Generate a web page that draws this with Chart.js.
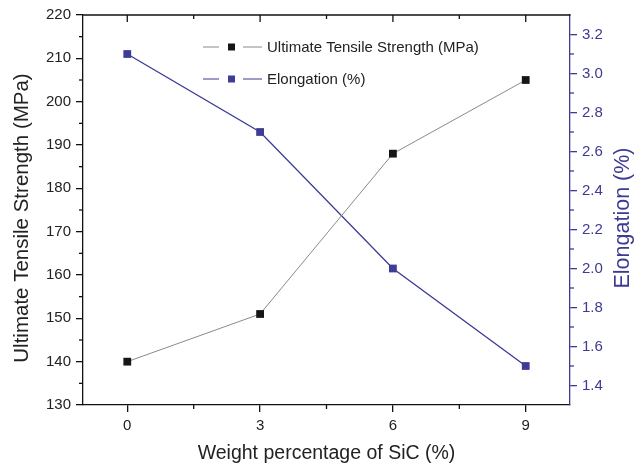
<!DOCTYPE html>
<html>
<head>
<meta charset="utf-8">
<script src="https://cdn.jsdelivr.net/npm/chart.js@4.4.1/dist/chart.umd.min.js"></script>
<style>
html,body{margin:0;padding:0;background:#fff}
#wrap{width:642px;height:465px;position:relative}
</style>
</head>
<body>
<div id="wrap"><canvas id="myChart"></canvas></div>
<script>
let sicPercent=[0,3,6,9]
let strength=[140,151,188,205]
let elongation=[3.1,2.7,2.0,1.5]
let xTicks=[0,3,6,9]
let xMinor=[1.5,4.5,7.5]
let strengthTicks=[130,140,150,160,170,180,190,200,210,220]
let strengthMinor=[135,145,155,165,175,185,195,205,215]
let elongTicks=[1.4,1.6,1.8,2.0,2.2,2.4,2.6,2.8,3.0,3.2]
let elongMinor=[1.5,1.7,1.9,2.1,2.3,2.5,2.7,2.9,3.1]

let blue='#3d3a92'
let dark='#111'
let fontFam="'Liberation Sans', Arial, sans-serif"
Chart.defaults.font.family=fontFam

/* <><><> extra ticks, top frame, vertical titles, legend <><><> */
const axisExtras={
  id:'axisExtras',
  afterDraw(chart){
    const {ctx,chartArea:a,scales}=chart
    const line=(x1,y1,x2,y2)=>{ctx.beginPath();ctx.moveTo(x1,y1);ctx.lineTo(x2,y2);ctx.stroke()}
    ctx.save()
    ctx.lineWidth=1.3
    ctx.strokeStyle=dark
    line(a.left,a.top,a.right+0.5,a.top)
    xTicks.forEach(v=>{let x=scales.x.getPixelForValue(v);line(x,a.top,x,a.top+7)})
    xMinor.forEach(v=>{
      let x=scales.x.getPixelForValue(v)
      line(x,a.top,x,a.top+4)
      line(x,a.bottom,x,a.bottom+4)
    })
    strengthMinor.forEach(v=>{let y=scales.y.getPixelForValue(v);line(a.left-4,y,a.left,y)})
    ctx.strokeStyle=blue
    elongMinor.forEach(v=>{let y=scales.y1.getPixelForValue(v);line(a.right,y,a.right+4,y)})

    // axis titles that read bottom to top
    const vTitle=(text,x,y,size,color)=>{
      ctx.save()
      ctx.translate(x,y)
      ctx.rotate(-Math.PI/2)
      ctx.fillStyle=color
      ctx.font=size+'px '+fontFam
      ctx.textAlign='center'
      ctx.textBaseline='middle'
      ctx.fillText(text,0,0)
      ctx.restore()
    }
    vTitle('Ultimate Tensile Strength (MPa)',22,218,20.5,'#222')
    vTitle('Elongation (%)',623,218,21.5,blue)

    // legend
    ctx.font='15px '+fontFam
    ctx.textBaseline='middle'
    ctx.textAlign='left'
    chart.data.datasets.forEach((ds,i)=>{
      let y=47+i*32
      ctx.strokeStyle=ds.borderColor
      ctx.lineWidth=1
      line(203,y,219,y)
      line(243,y,262,y)
      ctx.fillStyle=ds.pointBackgroundColor
      ctx.fillRect(228,y-3.5,7,7)
      ctx.fillStyle='#222'
      ctx.fillText(ds.label,267,y+1)
    })
    ctx.restore()
  }
}

new Chart(document.getElementById('myChart'),{
  type:'line',
  data:{
    datasets:[{
      label:'Ultimate Tensile Strength (MPa)',
      data:sicPercent.map((x,i)=>({x:x,y:strength[i]})),
      borderColor:'#8a8a8a',
      borderWidth:1,
      pointStyle:'rect',
      pointRadius:5.5,
      pointBackgroundColor:'#161616',
      pointBorderColor:'#161616',
      pointBorderWidth:0,
      yAxisID:'y'
    },{
      label:'Elongation (%)',
      data:sicPercent.map((x,i)=>({x:x,y:elongation[i]})),
      borderColor:'#3a3a96',
      borderWidth:1.3,
      pointStyle:'rect',
      pointRadius:5.5,
      pointBackgroundColor:'#3d3d98',
      pointBorderColor:'#3d3d98',
      pointBorderWidth:0,
      yAxisID:'y1'
    }]
  },
  options:{
    responsive:true,
    maintainAspectRatio:false,
    animation:false,
    layout:{padding:{top:15,left:0,right:0,bottom:0}},
    plugins:{legend:{display:false},tooltip:{enabled:false}},
    scales:{
      x:{
        type:'linear',min:-1,max:10,
        afterBuildTicks:s=>{s.ticks=xTicks.map(v=>({value:v}))},
        afterFit:s=>{s.height=60},
        grid:{drawOnChartArea:false,tickLength:7,tickColor:dark,lineWidth:1.3},
        border:{color:dark,width:1.3},
        ticks:{color:'#222',font:{size:15},padding:5,maxRotation:0},
        title:{display:true,text:'Weight percentage of SiC (%)',color:'#222',font:{size:19.5},padding:{top:0,bottom:0}}
      },
      y:{
        position:'left',min:130,max:220,
        afterBuildTicks:s=>{s.ticks=strengthTicks.map(v=>({value:v}))},
        afterFit:s=>{s.width=83},
        grid:{drawOnChartArea:false,tickLength:7,tickColor:dark,lineWidth:1.3},
        border:{color:dark,width:1.3},
        ticks:{color:'#222',font:{size:15},padding:5},
        title:{display:false}
      },
      y1:{
        position:'right',min:1.3,max:3.3,
        afterBuildTicks:s=>{s.ticks=elongTicks.map(v=>({value:v}))},
        afterFit:s=>{s.width=72},
        grid:{drawOnChartArea:false,tickLength:7,tickColor:blue,lineWidth:1.3},
        border:{color:blue,width:1.3},
        ticks:{color:blue,font:{size:15},padding:5,callback:v=>v.toFixed(1)},
        title:{display:false}
      }
    }
  },
  plugins:[axisExtras]
})
</script>
</body>
</html>
